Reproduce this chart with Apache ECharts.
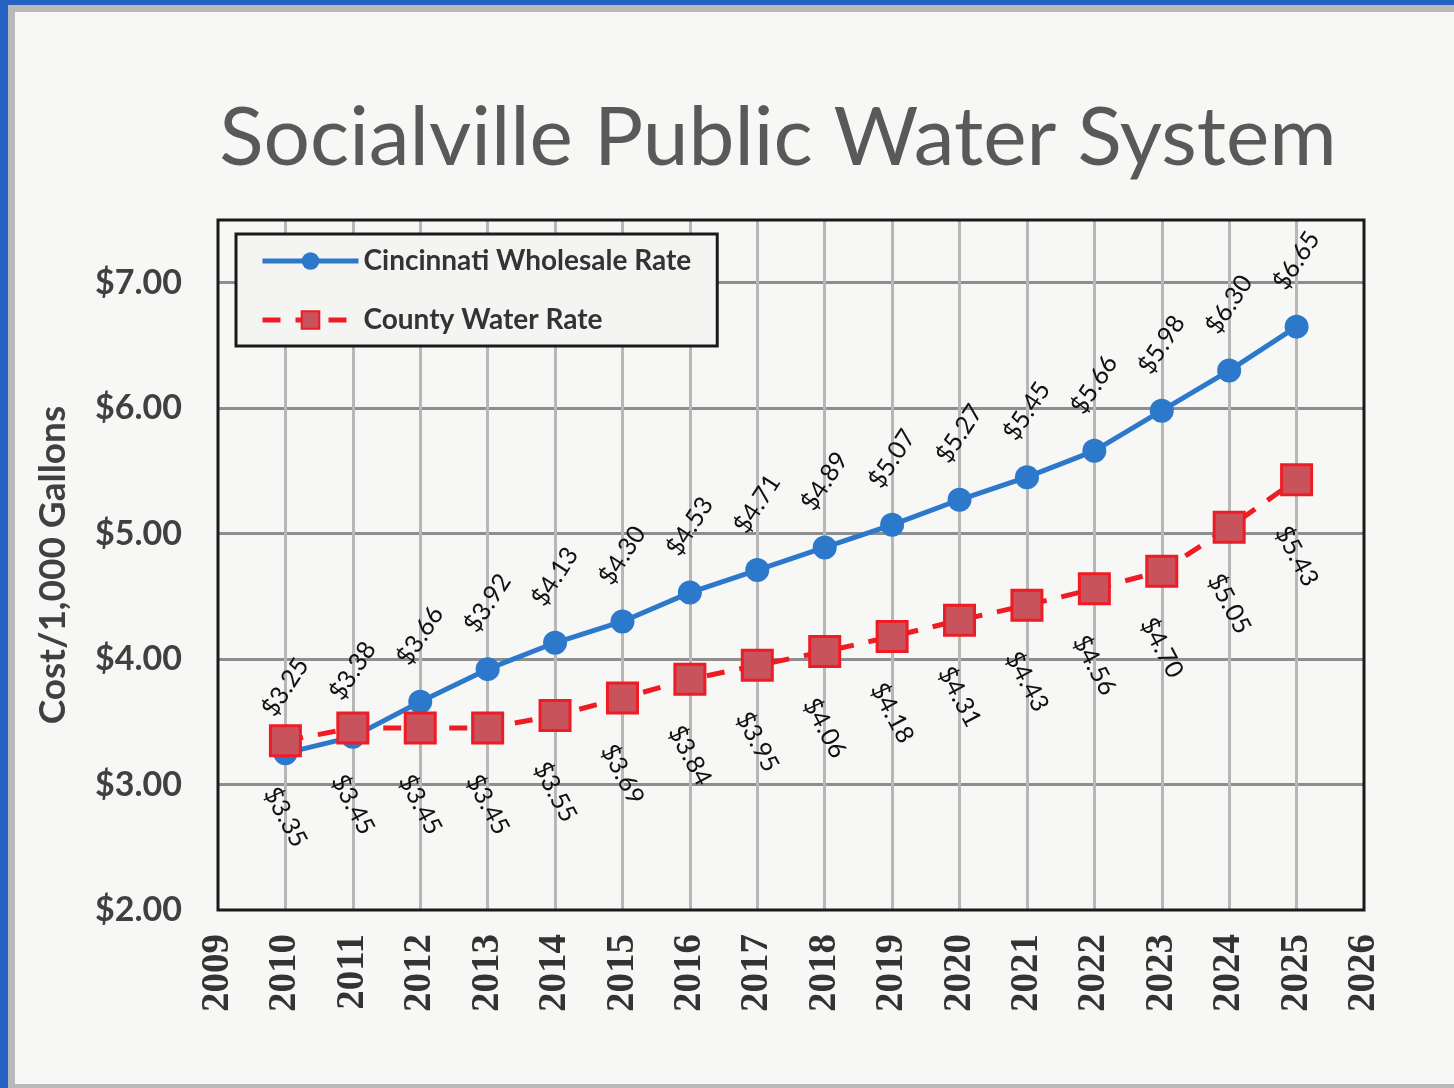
<!DOCTYPE html>
<html>
<head>
<meta charset="utf-8">
<title>Socialville Public Water System</title>
<script src="https://cdn.jsdelivr.net/npm/echarts@6/dist/echarts.min.js"></script>
<style>
    html, body { margin: 0; padding: 0; }
    body { width: 1454px; height: 1088px; background: #2463c2; position: relative; overflow: hidden; }
    .slide {
        position: absolute; left: 8px; top: 5px; width: 1460px; height: 1072px;
        background: #f7f7f5; border: 7px solid #b9b9b9;
    }
    #chart { position: absolute; left: 0; top: 0; width: 1454px; height: 1088px; }
</style>
</head>
<body>
<div class="slide"></div>
<div id="chart"></div>
<script>
// values
const years = [2010, 2011, 2012, 2013, 2014, 2015, 2016, 2017, 2018, 2019, 2020, 2021, 2022, 2023, 2024, 2025];
const cincinnatiRate = [3.25, 3.38, 3.66, 3.92, 4.13, 4.30, 4.53, 4.71, 4.89, 5.07, 5.27, 5.45, 5.66, 5.98, 6.30, 6.65];
const countyRate = [3.35, 3.45, 3.45, 3.45, 3.55, 3.69, 3.84, 3.95, 4.06, 4.18, 4.31, 4.43, 4.56, 4.70, 5.05, 5.43];
const seriesNames = ["Cincinnati Wholesale Rate", "County Water Rate"];

const pairs = vals => years.map((y, i) => [y, vals[i]]);
const money = v => "$" + v.toFixed(2);

const chart = echarts.init(document.getElementById("chart"));
chart.setOption({
    backgroundColor: "transparent",
    animation: false,
    title: {
        text: "Socialville Public Water System",
        left: 773,
        textAlign: "center",
        top: 93,
        textStyle: { fontFamily: "Lato", fontWeight: "normal", fontSize: 82, color: "#595959" }
    },
    legend: {
        orient: "vertical",
        left: 236,
        top: 234,
        data: [
            { name: seriesNames[0], lineStyle: { width: 5 } },
            { name: seriesNames[1], lineStyle: { width: 5 } }
        ],
        backgroundColor: "#f4f4f2",
        borderColor: "#1a1a1a",
        borderWidth: 3,
        padding: [13, 26, 12, 24],
        itemWidth: 96,
        itemHeight: 22,
        itemGap: 31,
        textStyle: { fontFamily: "Lato", fontWeight: "bold", fontSize: 28, color: "#333" }
    },
    grid: {
        left: 218,
        right: 90,
        top: 220,
        bottom: 178,
        show: true,
        borderColor: "#1a1a1a",
        borderWidth: 3,
        z: 3
    },
    xAxis: {
        type: "value",
        min: 2009,
        max: 2026,
        interval: 1,
        axisLine: { show: false },
        axisTick: { show: false },
        axisLabel: {
            rotate: 90,
            margin: 24,
            fontFamily: "Liberation Serif",
            fontWeight: "bold",
            fontSize: 39,
            color: "#333",
            formatter: v => String(v)
        },
        splitLine: { showMinLine: false, showMaxLine: false, lineStyle: { color: "#b7b7b7", width: 3 } }
    },
    yAxis: {
        type: "value",
        min: 2,
        max: 7.5,
        interval: 1,
        name: "Cost/1,000 Gallons",
        nameLocation: "middle",
        nameGap: 146,
        nameTextStyle: { fontFamily: "Lato", fontWeight: "bold", fontSize: 37, color: "#404040" },
        axisLine: { show: false },
        axisTick: { show: false },
        axisLabel: {
            margin: 36,
            fontFamily: "Lato",
            fontWeight: "bold",
            fontSize: 34,
            color: "#404040",
            formatter: v => (Number.isInteger(v) ? money(v) : "")
        },
        splitLine: { showMinLine: false, showMaxLine: false, lineStyle: { color: "#8e8e8e", width: 3 } }
    },
    series: [
        {
            name: seriesNames[0],
            type: "line",
            data: pairs(cincinnatiRate),
            symbol: "circle",
            symbolSize: 24,
            itemStyle: { color: "#2c79cc" },
            lineStyle: { color: "#2c79cc", width: 5 },
            label: {
                show: true,
                position: "top",
                distance: 54,
                rotate: 57,
                align: "center",
                verticalAlign: "middle",
                fontFamily: "Lato",
                fontSize: 25,
                color: "#111",
                formatter: p => money(p.value[1])
            },
            z: 3
        },
        {
            name: seriesNames[1],
            type: "line",
            data: pairs(countyRate),
            symbol: "rect",
            symbolSize: 30,
            itemStyle: { color: "#c9535d", borderColor: "#ee1c24", borderWidth: 3 },
            lineStyle: { color: "#ee1c24", width: 5, type: [18, 15] },
            label: {
                show: true,
                position: "bottom",
                distance: 60,
                rotate: -62,
                align: "center",
                verticalAlign: "middle",
                fontFamily: "Lato",
                fontSize: 25,
                color: "#111",
                formatter: p => money(p.value[1])
            },
            z: 4
        }
    ]
});
</script>
</body>
</html>
